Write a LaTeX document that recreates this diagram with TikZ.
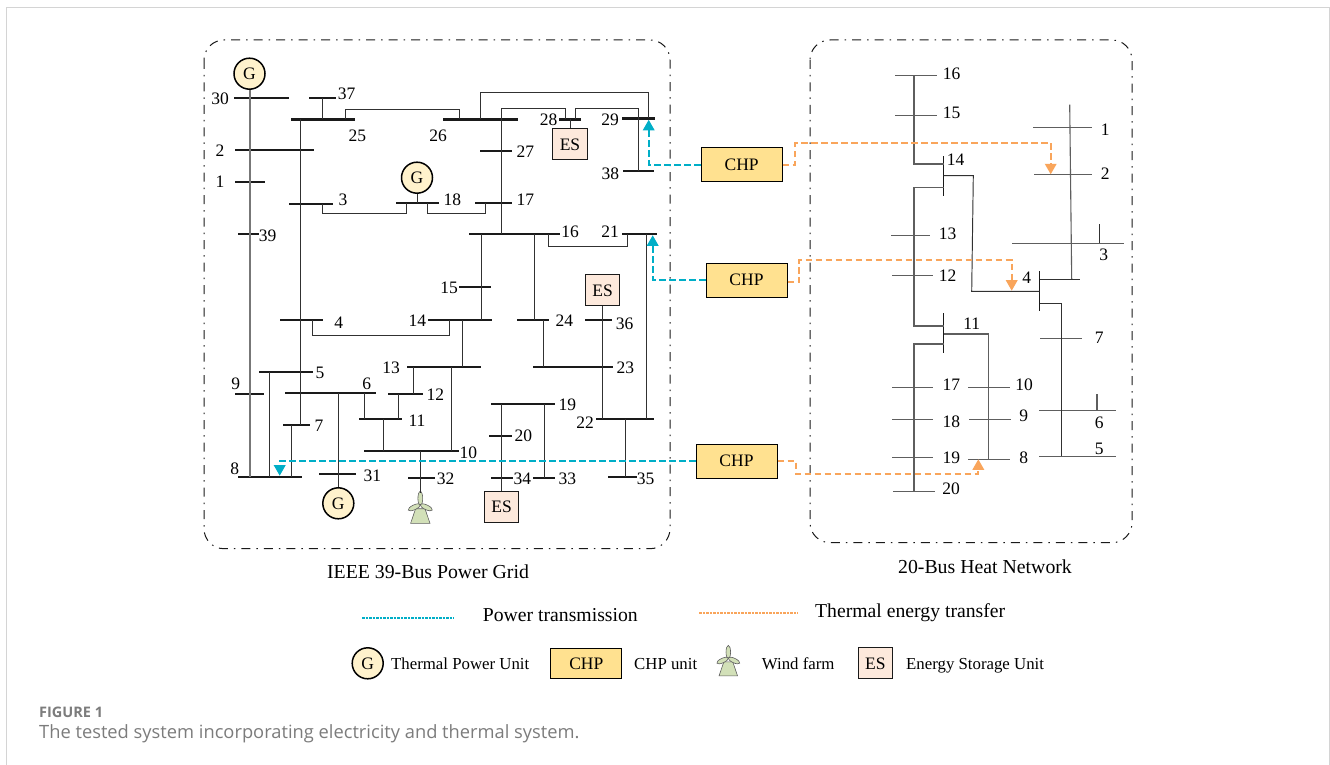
\documentclass[tikz,border=0pt]{standalone}
\usepackage{fontspec}
\setmainfont{Liberation Serif}
\newfontfamily\capfont{Open Sans}
\usetikzlibrary{arrows.meta,calc}
\definecolor{ink}{HTML}{1A1A1A}
\definecolor{wiregray}{HTML}{5E5E5E}
\definecolor{trunkgray}{HTML}{777777}
\definecolor{framegray}{HTML}{D4D4D4}
\definecolor{capgray}{HTML}{7C7C7C}
\definecolor{genfill}{HTML}{FFF2CC}
\definecolor{chpfill}{HTML}{FFE190}
\definecolor{esfill}{HTML}{FDE9DC}
\definecolor{windfill}{HTML}{D2E0B8}
\definecolor{powerblue}{HTML}{00AEC7}
\definecolor{heatorange}{HTML}{F9A55B}

\begin{document}
\begin{tikzpicture}[
  x=1pt, y=-1pt,
  font=\fontsize{17.5}{19}\selectfont,
  bus/.style={fill=ink, inner sep=0pt, minimum height=2.2pt},
  heatbus/.style={fill=wiregray, inner sep=0pt, minimum height=1pt},
  heatbar/.style={fill=ink, inner sep=0pt, minimum width=1pt},
  wire/.style={draw=ink!90, line width=0.95pt},
  trunk/.style={draw=trunkgray, line width=2pt},
  heatwire/.style={draw=wiregray, line width=1.1pt},
  gen/.style={circle, draw=black, line width=1.5pt, fill=genfill, minimum size=31pt, inner sep=0pt},
  chp/.style={draw=black, line width=1pt, fill=chpfill, minimum width=81pt, minimum height=34pt, inner sep=0pt},
  es/.style={draw=ink, line width=1pt, fill=esfill, minimum width=34.5pt, minimum height=31pt, inner sep=0pt},
  container/.style={draw=ink, line width=1pt, rounded corners=20pt, dash pattern=on 9pt off 6pt on 1.5pt off 6pt},
  power/.style={draw=powerblue, line width=1.7pt, dash pattern=on 6.5pt off 3.5pt, -{Triangle[length=10.5pt,width=11.5pt]}},
  heat/.style={draw=heatorange, line width=1.7pt, dash pattern=on 6.5pt off 3.5pt, -{Triangle[length=10.5pt,width=11.5pt]}},
  legendtext/.style={font=\fontsize{16.8}{19}\selectfont, anchor=base west, inner sep=0pt},
  bigtext/.style={font=\fontsize{19.7}{22}\selectfont, anchor=base west, inner sep=0pt},
  windicon/.pic={
    \draw[fill=windfill, draw=ink!70, line width=0.6pt] (-9.7,17.7) -- (-4.7,3) -- (4.7,3) -- (9.7,17.7) -- cycle;
    \draw[fill=windfill, draw=ink!70, line width=0.6pt] (0,-7.3) ellipse (2.4 and 7);
    \draw[fill=windfill, draw=ink!70, line width=0.6pt] (-6,1.6) ellipse [x radius=6.6, y radius=2.4, rotate=25];
    \draw[fill=windfill, draw=ink!70, line width=0.6pt] (6,1.6) ellipse [x radius=6.6, y radius=2.4, rotate=-25];
  }
]
\useasboundingbox (0,0) rectangle (1330,765);
\fill[white] (0,0) rectangle (1330,765);
\draw[framegray, line width=1pt] (6.5,765) -- (6.5,8) -- (1329,8) -- (1329,765);

% ---------------------------------------------------------------------------
% IEEE 39-bus grid: buses with their numbers
% ---------------------------------------------------------------------------
\draw[container] (204,40) rectangle (670,548.7);
\node (gridtitle) at (428,572) {\fontsize{19.8}{22}\selectfont IEEE 39-Bus Power Grid};

\foreach \n/\xa/\xb/\y/\lx/\ly in {
  30/234/289/97.7/220/98.3, 37/309/336/97.7/346.7/93.3, 25/291/355/119.5/357.3/136,
  26/443/518/119.5/438/136, 28/559/581/119.5/548.7/119.3, 29/622/655/118.5/610/120,
  2/235/314/150/220/150.7, 1/235/265/182/220/181.7, 27/480/512/151/525.3/151.3,
  38/623/654/171/610.3/174, 3/289/333/203.7/343/199.3, 18/396/439/203/452.3/199.3,
  17/475/512/203/525.3/199.3, 39/238/259/234/267.7/235.7, 16/469/560/234/570/231.7,
  21/622/657/234/610/231.7, 15/459/491/286.7/449/288, 4/280/323/320/338.7/322.3,
  14/428/492/320/417.3/320.3, 24/517/549/320/564.3/320.3, 36/585/612/320/624.7/324,
  13/407/481/367/391/368, 23/533/613/367/625.3/368, 5/259/313/371.7/320/373,
  6/285/376/393/366.7/384, 9/235/264/394.3/235.7/383.7, 12/388/423/394/435.3/394.3,
  19/491/555/404.3/567.3/404.7, 11/359/402/419/417/420.7, 22/596/654/419/585/422.7,
  7/283/310/424.7/319/425.7, 10/364/459/451/468.3/452.3, 20/489/512/436/523.3/436,
  8/238/302/477/234.7/468.3, 31/319/356/473.7/372.3/475.7, 32/408/435/478/445.7/478.7,
  34/491/513/478/522.3/478.7, 33/533/555/478/567.3/478.7, 35/608/637/477/645.7/478.7} {
  \node[bus, minimum width={(\xb-\xa)*1pt}] (g\n) at ({(\xa+\xb)/2},\y) {};
  \node (gl\n) at (\lx,\ly) {\n};
}

\node[gen] (gena) at (249.5,73.7) {G};
\node[gen] (genb) at (417,177.7) {G};
\node[gen] (genc) at (338.3,503.3) {G};
\node[es] (esa) at (570,144.3) {ES};
\node[es] (esb) at (602.7,290.3) {ES};
\node[es] (esc) at (501.7,507) {ES};
\coordinate (winda) at (420.3,505.7);
\coordinate (windtop) at (420.3,492.5);
\pic at (winda) {windicon};

% straight risers
\draw[trunk] (gena.south) -- (249.5,0|-g8);
\foreach \x/\a/\b in {
  300.7/g25/g7, 322.7/g37/g25, 501.7/g26/g16, 481.7/g16/g14, 534.3/g16/g24, 646.7/g21/g22,
  462.7/g14/g13, 413.3/g13/g12, 451.3/g13/g10, 398.3/g12/g11, 364.3/g6/g11, 383/g11/g10,
  543.7/g24/g23, 269.7/g5/g8, 291/g7/g8, 501.7/g19/esc.north, 544.3/g19/g33, 625/g22/g35,
  338.3/g6/genc.north, 602.7/esb.south/g22, 570/g28/esa.north, 417/genb.south/g18, 420.3/g10/windtop}
  \draw[wire] (\x,0|-\a) -- (\x,0|-\b);

% bent links between two buses
\foreach \xa/\xb/\y/\a/\b in {
  345.3/459/109.3/g25/g26, 480.7/648.7/92.3/g26/g29, 501.7/565/108.7/g26/g28,
  575.3/638.7/108.7/g28/g38, 322.7/406.7/213.7/g3/g18, 427.7/485.7/213.7/g18/g17,
  548/627.7/246/g16/g21, 312/449/335/g4/g14}
  \draw[wire] (\xa,0|-\a) -- (\xa,\y) -- (\xb,\y) -- (\xb,0|-\b);

% ---------------------------------------------------------------------------
% 20-bus heat network
% ---------------------------------------------------------------------------
\draw[container] (810,40) rectangle (1132,542.7);
\node (heattitle) at (985,567) {\fontsize{19.8}{22}\selectfont 20-Bus Heat Network};

\foreach \n/\xa/\xb/\y/\lx/\ly in {
  16/895.3/937.3/76/951.7/73.3, 15/895.3/937.3/116/951.7/113.3, 13/891.3/929.7/235.7/947.7/233.3,
  12/891.7/933.3/275.7/947.7/275.7, 1/1033.3/1092/128/1105.3/130, 2/1034.3/1092/174.3/1105.3/174,
  3/1012.3/1124/243.3/1103.7/254.3, 7/1040.3/1082.3/338.3/1099.3/338, 6/1039.3/1115.7/410.7/1099.3/422.7,
  5/1039.3/1116.3/456.3/1099.3/449, 17/891.7/933.3/387.3/951.3/385, 18/891.7/933.3/419/951.3/421.3,
  19/891.7/933.3/457.3/951.3/457.7, 20/893/934.7/491/951/488.3, 10/968.3/1010/387.3/1024/385,
  9/969/1011/419/1023.7/415.3, 8/968.3/1010/459.3/1023.7/457.7} {
  \node[heatbus, minimum width={(\xb-\xa)*1pt}] (h\n) at ({(\xa+\xb)/2},\y) {};
  \node (hl\n) at (\lx,\ly) {\n};
}
\node[heatbar, minimum height=39.7pt] (h14) at (943.7,175.8) {};
\node[heatbar, minimum height=39.7pt] (h4) at (1039.7,291.3) {};
\node[heatbar, minimum height=40pt] (h11) at (943.7,333.3) {};
\node (hl14) at (955.7,159.3) {14};
\node (hl4) at (1026.7,277.3) {4};
\node (hl11) at (971.7,324) {11};

\draw[heatwire] (914,0|-h16) -- (914,164) -- (914,164-|h14);
\draw[heatwire] (914,187.7-|h14) -- (914,187.7) -- (914,326) -- (914,326-|h11);
\draw[heatwire] (914,344-|h11) -- (914,344) -- (914,0|-h20);
\draw[wire] (973.3,175.7-|h14) -- (973.3,175.7) -- (971.7,291.3) -- (971.7,291.3-|h4);
\draw[heatwire] (988.7,334-|h11) -- (988.7,334) -- (988.7,0|-h8);
\draw[wire] (1099.3,224) -- (1099.3,0|-h3);
\draw[heatwire] (1097,394) -- (1097,0|-h6);
\draw[heatwire] (1069.7,104.7) -- (1071.7,279.3);
\draw[wire] (1079.7,279.3) -- (1079.7,279.3-|h4);
\draw[wire] (1061.3,303.3-|h4) -- (1061.3,303.3) -- (1061.3,0|-h5);

% ---------------------------------------------------------------------------
% CHP units and the flows out of them
% ---------------------------------------------------------------------------
\node[chp] (chpa) at (741.7,164.7) {CHP};
\node[chp] (chpb) at (746.5,280) {CHP};
\node[chp] (chpc) at (736.5,461) {CHP};

\draw[power] (chpa.west) -- (648.7,0|-chpa) -- (648.7,0|-g29.south);
\draw[power] (chpb.west) -- (652.7,0|-chpb) -- (652.7,0|-g21.south);
\draw[power] (chpc.west) -- (279.7,0|-chpc) -- (279.7,0|-g8.north);

\draw[heat] (chpa.east) -- (795,0|-chpa) -- (795,143) -- (1050.7,143) -- (1050.7,0|-h2);
\draw[heat] (chpb.east) ++(0,2) -- (799,282) -- (799,260) -- (1011.7,260) -- (1011.7,290.7);
\draw[heat] (chpc.east) -- (796,0|-chpc) -- (796,474) -- (978.3,474) -- (978.3,0|-h8);

% ---------------------------------------------------------------------------
% legend
% ---------------------------------------------------------------------------
\coordinate (legpa) at (362,618);
\coordinate (legpb) at (454,618);
\draw[draw=powerblue, line width=2pt, dash pattern=on 2.5pt off 1pt] (legpa) -- (legpb);
\node[bigtext] (legpt) at (482.7,621.7) {Power transmission};
\coordinate (legha) at (699.3,612.5);
\coordinate (leghb) at (798,612.5);
\draw[draw=heatorange, line width=2pt, dash pattern=on 2.5pt off 1pt] (legha) -- (leghb);
\node[bigtext] (leght) at (815,617.7) {Thermal energy transfer};

\node[gen] (legg) at (367.7,663.3) {G};
\node[legendtext] (leggt) at (391,669.7) {Thermal Power Unit};
\node[chp, minimum width=71pt, minimum height=30pt] (legc) at (586.3,663.3) {CHP};
\node[legendtext] (legct) at (634,669.7) {CHP unit};
\coordinate (legw) at (728.3,659);
\pic[scale=0.95] at (legw) {windicon};
\node[legendtext] (legwt) at (761.7,669.7) {Wind farm};
\node[es] (lege) at (875.3,663.3) {ES};
\node[legendtext] (leget) at (906,669.7) {Energy Storage Unit};

% caption
\node[anchor=base west, inner sep=0pt, text=capgray, font=\capfont\fontsize{14.5}{16}\selectfont\bfseries] (capa) at (39,717.7) {FIGURE 1};
\node[anchor=base west, inner sep=0pt, text=capgray, font=\capfont\fontsize{18.3}{21}\selectfont] (capb) at (39,738.7) {The tested system incorporating electricity and thermal system.};
\end{tikzpicture}
\end{document}
